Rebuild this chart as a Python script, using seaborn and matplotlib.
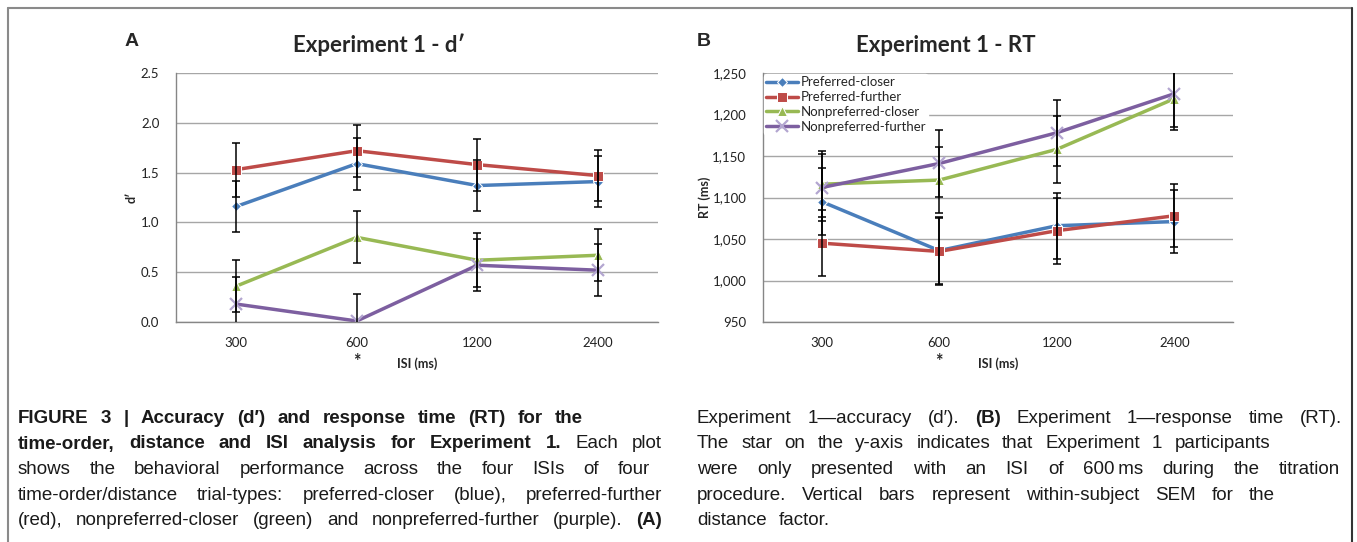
import matplotlib
matplotlib.use('Agg')
import pandas as pd
import matplotlib.pyplot as plt
import seaborn as sns
from matplotlib.lines import Line2D
from matplotlib.ticker import FixedLocator, FuncFormatter

# ---- data ----
isi = ['300', '600', '1200', '2400']
series = ['Preferred-closer', 'Preferred-further', 'Nonpreferred-closer', 'Nonpreferred-further']

dprime_pc = [1.16, 1.59, 1.37, 1.41]
dprime_pf = [1.53, 1.72, 1.58, 1.47]
dprime_nc = [0.36, 0.85, 0.62, 0.67]
dprime_nf = [0.18, 0.01, 0.57, 0.52]
dprime_err_pc = [0.26, 0.26, 0.26, 0.26]
dprime_err_pf = [0.27, 0.26, 0.26, 0.26]
dprime_err_nc = [0.26, 0.26, 0.27, 0.26]
dprime_err_nf = [0.27, 0.27, 0.26, 0.26]

rt_pc = [1095, 1036, 1066, 1071]
rt_pf = [1045, 1035, 1060, 1078]
rt_nc = [1116, 1121, 1158, 1219]
rt_nf = [1112, 1141, 1178, 1225]
rt_err_pc = [40, 40, 40, 38]
rt_err_pf = [40, 40, 40, 38]
rt_err_nc = [40, 40, 40, 38]
rt_err_nf = [40, 40, 40, 40]

colors = ['#4a7ebb', '#be4b48', '#98b954', '#7d5fa0']
markers = ['D', 's', '^', 'x']
msizes = [5, 7, 7, 8.5]

W, H = 1357, 542
sns.set_style('white')
plt.rcParams['font.family'] = ['Lato', 'DejaVu Sans']

fig = plt.figure(figsize=(W / 100, H / 100), dpi=100)


def px(x0, y0, x1, y1):
    return [x0 / W, 1 - y1 / H, (x1 - x0) / W, (y1 - y0) / H]


ax1 = fig.add_axes(px(176, 73, 658, 322))
ax2 = fig.add_axes(px(763, 73, 1233, 322))


def draw(ax, vals, errs, legend):
    for name, v, e, c, m, ms in zip(series, vals, errs, colors, markers, msizes):
        kw = {}
        if m == 'x':
            kw = dict(markeredgecolor='#b3a6d0', markeredgewidth=1.6)
        sns.lineplot(x=isi, y=v, ax=ax, color=c, marker=m, markersize=ms,
                     linewidth=2.5, sort=False, label=name if legend else None,
                     legend=False, zorder=2, **kw)
        ax.errorbar(isi, v, yerr=e, fmt='none', ecolor='black', elinewidth=1.1,
                    capsize=3, capthick=1.1, zorder=3)
    ax.set_xlim(-0.5, 3.5)
    ax.xaxis.set_minor_locator(FixedLocator([-0.5, 0.5, 1.5, 2.5, 3.5]))
    ax.tick_params(axis='x', which='major', length=0, pad=11, labelsize=9.5, colors='#222222')
    ax.tick_params(axis='x', which='minor', length=5, width=1, color='#868686', direction='out')
    ax.tick_params(axis='y', length=5, width=1, color='#868686', direction='out', pad=7,
                   labelsize=9.5, labelcolor='#222222')
    ax.yaxis.grid(True, color='#a6a6a6', linewidth=1.0)
    ax.set_axisbelow(True)
    for s in ['top', 'right']:
        ax.spines[s].set_visible(False)
    for s in ['left', 'bottom']:
        ax.spines[s].set_color('#868686')
        ax.spines[s].set_linewidth(1.0)
    ax.set_xlabel('ISI (ms)', fontsize=9, fontweight='bold', labelpad=6)
    ax.text(1, -0.125, '*', transform=ax.get_xaxis_transform(), ha='center', va='top',
            fontsize=13, fontweight='bold')


draw(ax1, [dprime_pc, dprime_pf, dprime_nc, dprime_nf],
     [dprime_err_pc, dprime_err_pf, dprime_err_nc, dprime_err_nf], False)
ax1.set_ylim(0, 2.5)
ax1.set_yticks([0, 0.5, 1.0, 1.5, 2.0, 2.5])
ax1.yaxis.set_major_formatter(FuncFormatter(lambda v, p: f'{v:.1f}'))
ax1.set_ylabel("d\u2032", fontsize=9, fontweight='bold')
ax1.yaxis.set_label_coords(-0.08, 0.5)

draw(ax2, [rt_pc, rt_pf, rt_nc, rt_nf],
     [rt_err_pc, rt_err_pf, rt_err_nc, rt_err_nf], True)
ax2.set_ylim(950, 1250)
ax2.set_yticks(range(950, 1251, 50))
ax2.yaxis.set_major_formatter(FuncFormatter(lambda v, p: f'{int(v):,}'))
ax2.set_ylabel('RT (ms)', fontsize=9, fontweight='bold')
ax2.yaxis.set_label_coords(-0.11, 0.5)
leg = ax2.legend(loc='upper left', bbox_to_anchor=(0.0, 1.0), borderaxespad=0.1,
                 frameon=True, fontsize=9.5, handlelength=2.4, handletextpad=0.2,
                 labelspacing=0.22, borderpad=0.15)
leg.get_frame().set_facecolor('white')
leg.get_frame().set_edgecolor('white')
leg.get_frame().set_alpha(1)

# titles and panel letters
fig.text(379 / W, 1 - 45 / H, "Experiment 1 - d\u2032", ha='center', va='center',
         fontsize=16, fontweight='bold')
fig.text(946 / W, 1 - 45 / H, 'Experiment 1 - RT', ha='center', va='center',
         fontsize=16, fontweight='bold')
fig.text(132 / W, 1 - 41 / H, 'A', ha='center', va='center', fontsize=14,
         fontweight='bold', family=['Liberation Sans', 'DejaVu Sans'])
fig.text(704 / W, 1 - 41 / H, 'B', ha='center', va='center', fontsize=14,
         fontweight='bold', family=['Liberation Sans', 'DejaVu Sans'])

# frame around the figure
fig.add_artist(Line2D([8 / W, 8 / W], [0, 1 - 8 / H], color='#8a8a8a', lw=1.5))
fig.add_artist(Line2D([8 / W, 1352 / W], [1 - 8 / H, 1 - 8 / H], color='#8a8a8a', lw=1.5))
fig.add_artist(Line2D([1352 / W, 1352 / W], [0, 1 - 8 / H], color='#333333', lw=1.5))

# caption, justified word by word
cap_font = ['Liberation Sans Narrow', 'Liberation Sans', 'DejaVu Sans']
renderer = fig.canvas.get_renderer()


def caption_line(x0, x1, y, parts):
    arts = []
    for text, bold in parts:
        for w in text.split(' '):
            arts.append(fig.text(0, 0, w.replace('_', '\u2009'), fontsize=13.5, family=cap_font,
                                 fontweight='bold' if bold else 'normal',
                                 ha='left', va='baseline', color='#1a1a1a'))
    widths = [a.get_window_extent(renderer).width for a in arts]
    if x1 is None:
        gap = 12
    else:
        gap = (x1 - x0 - sum(widths)) / max(len(arts) - 1, 1)
    x = x0
    for a, w in zip(arts, widths):
        a.set_position((x / W, 1 - y / H))
        x += w + gap


left_lines = [
    [("FIGURE 3 | Accuracy (d\u2032) and response time (RT) for the", True)],
    [("time-order, distance and ISI analysis for Experiment 1.", True), ("Each plot", False)],
    [("shows the behavioral performance across the four ISIs of four", False)],
    [("time-order/distance trial-types: preferred-closer (blue), preferred-further", False)],
    [("(red), nonpreferred-closer (green) and nonpreferred-further (purple).", False), ("(A)", True)],
]
left_ends = [583, 662, 650, 662, 662]
right_lines = [
    [("Experiment 1\u2014accuracy (d\u2032).", False), ("(B)", True),
     ("Experiment 1\u2014response time (RT).", False)],
    [("The star on the y-axis indicates that Experiment 1 participants", False)],
    [("were only presented with an ISI of 600_ms during the titration", False)],
    [("procedure. Vertical bars represent within-subject SEM for the", False)],
    [("distance factor.", False)],
]
right_ends = [1342, 1270, 1340, 1275, None]
for i, (parts, end) in enumerate(zip(left_lines, left_ends)):
    caption_line(18, end, 423 + 25.5 * i, parts)
for i, (parts, end) in enumerate(zip(right_lines, right_ends)):
    caption_line(697, end, 423 + 25.5 * i, parts)

fig.savefig('out.png', dpi=100)
